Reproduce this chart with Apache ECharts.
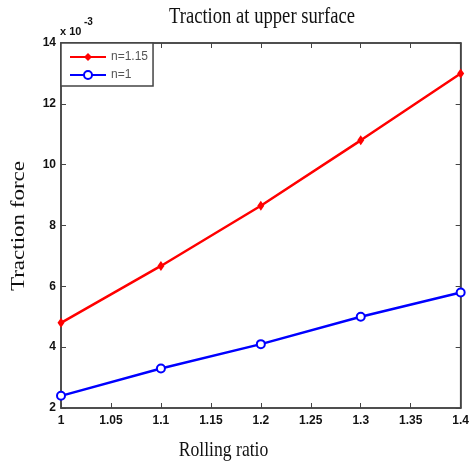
<!DOCTYPE html>
<html>
<head>
<meta charset="utf-8">
<script src="https://cdn.jsdelivr.net/npm/echarts@6/dist/echarts.min.js"></script>
<style>html,body{margin:0;padding:0;background:#fff}#c{width:472px;height:466px}</style>
</head>
<body>
<div id="c"></div>
<script>
var rollingRatio = [1.0, 1.1, 1.2, 1.3, 1.4];
var tractionN115 = [4.8, 6.67, 8.65, 10.8, 13.0];
var tractionN1 = [2.4, 3.3, 4.1, 5.0, 5.8];
var seriesNames = ['n=1.15', 'n=1'];
var titleText = 'Traction at upper surface';
var xName = 'Rolling ratio';
var yName = 'Traction force';

function pairs(xs, ys) { return xs.map(function (x, i) { return [x, ys[i]]; }); }

var chart = echarts.init(document.getElementById('c'), null, { renderer: 'canvas' });
var axisColor = '#444';
var tickFont = { fontFamily: 'Liberation Sans', fontWeight: 'bold', fontSize: 12, color: '#111' };

function serifText(text, x, y, size, sx, rot) {
  return {
    type: 'text', x: x, y: y, rotation: rot || 0,
    scaleX: rot ? 1 : sx, scaleY: rot ? sx : 1,
    style: {
      text: text, fontFamily: 'Liberation Serif', fontSize: size, fill: '#111',
      align: 'center', verticalAlign: 'middle', textAlign: 'center', textVerticalAlign: 'middle'
    }
  };
}

chart.setOption({
  animation: false,
  backgroundColor: '#fff',
  grid: { left: 61, right: 8, top: 43, bottom: 58, show: true, borderColor: axisColor, borderWidth: 1.5, containLabel: false },
  legend: {
    left: 61, top: 43, orient: 'vertical',
    data: seriesNames,
    itemWidth: 36, itemHeight: 10, itemGap: 6,
    padding: [8, 5, 5, 8],
    borderColor: axisColor, borderWidth: 1.5, borderRadius: 0,
    backgroundColor: '#fff',
    textStyle: { fontFamily: 'Liberation Sans', fontSize: 12, color: '#555' }
  },
  xAxis: [{
    type: 'value', min: 1, max: 1.4, interval: 0.05,
    axisLine: { lineStyle: { color: axisColor, width: 1.5 } },
    axisTick: { inside: true, length: 5, lineStyle: { color: axisColor } },
    axisLabel: Object.assign({ margin: 7, formatter: function (v) { return +v.toFixed(2) + ''; } }, tickFont),
    splitLine: { show: false }
  }, {
    type: 'value', min: 1, max: 1.4, interval: 0.05, position: 'top',
    axisLine: { lineStyle: { color: axisColor, width: 1.5 } },
    axisTick: { inside: true, length: 5, lineStyle: { color: axisColor } },
    axisLabel: { show: false }, splitLine: { show: false }
  }],
  yAxis: [{
    type: 'value', min: 2, max: 14, interval: 2,
    axisLine: { show: true, lineStyle: { color: axisColor, width: 1.5 } },
    axisTick: { show: true, inside: true, length: 5, lineStyle: { color: axisColor } },
    axisLabel: Object.assign({ margin: 5 }, tickFont),
    splitLine: { show: false }
  }, {
    type: 'value', min: 2, max: 14, interval: 2, position: 'right',
    axisLine: { show: true, lineStyle: { color: axisColor, width: 1.5 } },
    axisTick: { show: true, inside: true, length: 5, lineStyle: { color: axisColor } },
    axisLabel: { show: false }, splitLine: { show: false }
  }],
  graphic: [
    serifText(titleText, 262, 17, 23, 0.81, 0),
    serifText(xName, 223.5, 450, 21, 0.84, 0),
    serifText(yName, 19.5, 226, 23, 0.8, Math.PI / 2),
    { type: 'text', x: 60, y: 26, style: { text: 'x 10', fontFamily: 'Liberation Sans', fontWeight: 'bold', fontSize: 11, fill: '#111' } },
    { type: 'text', x: 84, y: 17, style: { text: '-3', fontFamily: 'Liberation Sans', fontWeight: 'bold', fontSize: 10, fill: '#111' } }
  ],
  series: [{
    name: seriesNames[0], type: 'line', data: pairs(rollingRatio, tractionN115),
    symbol: 'diamond', symbolSize: [7, 10], showAllSymbol: true,
    lineStyle: { color: '#ff0000', width: 2.5 }, itemStyle: { color: '#ff0000' },
    z: 3
  }, {
    name: seriesNames[1], type: 'line', data: pairs(rollingRatio, tractionN1),
    symbol: 'emptyCircle', symbolSize: 8, showAllSymbol: true,
    lineStyle: { color: '#0000ff', width: 2.5 }, itemStyle: { color: '#0000ff', borderColor: '#0000ff', borderWidth: 2 },
    z: 3
  }]
});
</script>
</body>
</html>
